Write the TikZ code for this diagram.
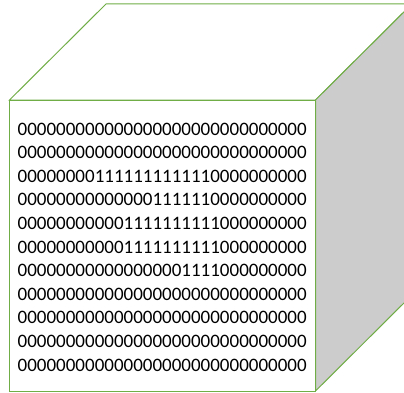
\documentclass[tikz,border=0pt]{standalone}
\usepackage{fontspec}
\setmainfont{Carlito}
\usetikzlibrary{positioning}
\definecolor{edge}{HTML}{70AD47}
\definecolor{side}{HTML}{CCCCCC}

\begin{document}
\begin{tikzpicture}[x=1pt,y=1pt,
        face/.style={draw=edge,line width=1pt,line join=miter},
        bitrow/.style={anchor=base west,inner sep=0pt,
                       font=\fontsize{19}{23.6}\selectfont}]
      \useasboundingbox (0,0) rectangle (404,392);
      % cube faces
      \draw[face,fill=white] (9.5,292) -- (106,388) -- (412,388) -- (315.5,292) -- cycle;
      \draw[face,fill=side] (315.5,292) -- (412,388) -- (412,97) -- (315.5,1) -- cycle;
      \draw[face,fill=white] (9.5,1) rectangle (315.5,292);
      % bit pattern
      \foreach \i/\bits in {
          1/000000000000000000000000000000,
          2/000000000000000000000000000000,
          3/000000001111111111110000000000,
          4/000000000000001111110000000000,
          5/000000000001111111111000000000,
          6/000000000001111111111000000000,
          7/000000000000000001111000000000,
          8/000000000000000000000000000000,
          9/000000000000000000000000000000,
          10/000000000000000000000000000000,
          11/000000000000000000000000000000}
        \node[bitrow] (row\i) at (17.5,{257-(\i-1)*23.6}) {\bits};
    \end{tikzpicture}
\end{document}
